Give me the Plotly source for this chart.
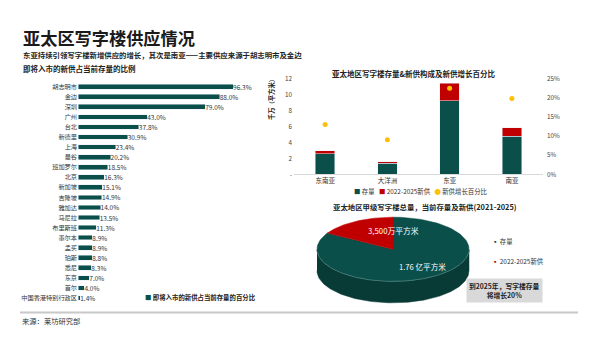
import numpy as np
import plotly.graph_objects as go

# ---------------- data ----------------
cities = ["胡志明市", "金边", "深圳", "广州", "台北", "新德里", "上海", "曼谷", "班加罗尔", "北京",
          "新加坡", "吉隆坡", "雅加达", "马尼拉", "布里斯班", "墨尔本", "孟买", "珀斯", "悉尼", "东京",
          "首尔", "中国香港特别行政区"]
new_share_pct = [96.3, 88.0, 79.0, 43.0, 37.8, 30.9, 23.4, 20.2, 18.5, 16.3,
                 15.1, 14.9, 14.0, 13.5, 11.3, 8.9, 8.9, 8.8, 8.3, 7.0, 4.0, 1.4]

regions = ["东南亚", "大洋洲", "东亚", "南亚"]
stock_10m_sqm = [2.6, 1.4, 9.2, 4.8]
new_10m_sqm = [0.35, 0.15, 2.2, 1.05]
growth_pct = [0.13, 0.09, 0.225, 0.198]

left_ticks = [0, 2, 4, 6, 8, 10, 12]
left_ticktext = ["-", "2", "4", "6", "8", "10", "12"]

pie_labels = ["存量", "2022-2025新供"]
pie_values = [17600, 3500]   # 万平方米

# ---------------- style ----------------
TEAL = "#0B4F4A"
TEAL_SIDE = "#083A36"
RED = "#C00000"
YELLOW = "#FFC000"
FONT = "Noto Sans CJK SC"
W, H = 600, 337

def px(x):
    return x / W

def py(y):
    return 1 - y / H

fig = go.Figure()

# ---------------- left bar chart ----------------
fig.add_trace(go.Bar(
    y=cities, x=new_share_pct, orientation="h", marker_color=TEAL, width=0.47,
    text=[f"{v:.1f}%" for v in new_share_pct], textposition="outside", constraintext="none",
    textfont=dict(size=6.5, color="#333", family=FONT), cliponaxis=False,
    xaxis="x", yaxis="y", showlegend=False, name="即将入市的新供占当前存量的百分比"))

# ---------------- top right stacked bars ----------------
fig.add_trace(go.Bar(x=regions, y=stock_10m_sqm, marker_color=TEAL, width=0.31,
                     xaxis="x2", yaxis="y2", name="存量", showlegend=False))
fig.add_trace(go.Bar(x=regions, y=new_10m_sqm, marker_color=RED, width=0.31,
                     xaxis="x2", yaxis="y2", name="2022-2025新供", showlegend=False))
fig.add_trace(go.Scatter(x=regions, y=growth_pct, mode="markers",
                         marker=dict(color=YELLOW, size=5), xaxis="x2", yaxis="y3",
                         name="新供增长百分比", showlegend=False))

# ---------------- 3D-ish pie (ellipse) ----------------
A_PX = 76.0
CX, CY = 393.0, 251.0
b = 33.0 / A_PX
t = 22.0 / A_PX
total = sum(pie_values)
frac_new = pie_values[1] / total
start = 90.0
red_end = start + 360.0 * frac_new

def arc(th0, th1, n=120, dy=0.0):
    th = np.radians(np.linspace(th0, th1, n))
    return np.cos(th), b * np.sin(th) + dy

# side (front half)
xs1, ys1 = arc(180, 360)
xs2, ys2 = arc(360, 180, dy=-t)
fig.add_trace(go.Scatter(x=np.concatenate([xs1, xs2]), y=np.concatenate([ys1, ys2]),
                         fill="toself", fillcolor=TEAL_SIDE, mode="lines",
                         line=dict(color=TEAL_SIDE, width=0.5),
                         xaxis="x4", yaxis="y4", showlegend=False, hoverinfo="skip"))
# stock slice
xa, ya = arc(red_end, 450)
fig.add_trace(go.Scatter(x=np.concatenate([[0], xa, [0]]), y=np.concatenate([[0], ya, [0]]),
                         fill="toself", fillcolor=TEAL, mode="lines",
                         line=dict(color=TEAL, width=0.5),
                         xaxis="x4", yaxis="y4", showlegend=False, name=pie_labels[0]))
# new supply slice
xr, yr = arc(start, red_end)
fig.add_trace(go.Scatter(x=np.concatenate([[0], xr, [0]]), y=np.concatenate([[0], yr, [0]]),
                         fill="toself", fillcolor=RED, mode="lines",
                         line=dict(color=RED, width=0.5),
                         xaxis="x4", yaxis="y4", showlegend=False, name=pie_labels[1]))
# rim highlight
xh, yh = arc(185, 355)
fig.add_trace(go.Scatter(x=xh, y=yh, mode="lines", line=dict(color="#4F807B", width=0.8),
                         xaxis="x4", yaxis="y4", showlegend=False, hoverinfo="skip"))

# pie axes geometry
xr_half = 1.05
x4_dom = [px(CX - xr_half * A_PX), px(CX + xr_half * A_PX)]
y4_dom = [0.06, 0.38]
cy_paper = py(CY)
y4_top = (y4_dom[1] - cy_paper) * H / A_PX
y4_bot = -(cy_paper - y4_dom[0]) * H / A_PX

axis_off = dict(visible=False, showgrid=False, zeroline=False)

fig.update_layout(
    width=W, height=H, margin=dict(l=0, r=0, t=0, b=0),
    paper_bgcolor="white", plot_bgcolor="white", barmode="stack",
    font=dict(family=FONT, color="#333"),
    xaxis=dict(domain=[px(78), px(78 + 161)], range=[0, 100], visible=False),
    yaxis=dict(domain=[py(306.2), py(78.8)], range=[21.5, -0.5], type="category",
               showgrid=False, zeroline=False, showline=False, ticks="",
               tickfont=dict(size=6.2, color="#333"), anchor="x"),
    xaxis2=dict(domain=[px(294), px(543)], anchor="y2", type="category", range=[-0.5, 3.5],
                showline=True, linecolor="#D9D9D9", linewidth=1, ticks="",
                tickfont=dict(size=6.5, color="#333"), showgrid=False),
    yaxis2=dict(domain=[py(174), py(75.6)], anchor="x2", range=[0, 12],
                tickvals=left_ticks, ticktext=left_ticktext, showgrid=False, zeroline=False,
                ticks="", tickfont=dict(size=6.3, color="#444"), ticklabelstandoff=1),
    yaxis3=dict(domain=[py(174), py(75.6)], anchor="x2", overlaying="y2", side="right",
                range=[0, 0.25], tickvals=[0, 0.05, 0.10, 0.15, 0.20, 0.25], tickformat=".0%",
                showgrid=False, zeroline=False, ticks="", tickfont=dict(size=6.3, color="#444"),
                ticklabelstandoff=3),
    xaxis4=dict(domain=x4_dom, range=[-xr_half, xr_half], anchor="y4", **axis_off),
    yaxis4=dict(domain=y4_dom, range=[y4_bot, y4_top], anchor="x4", **axis_off),
)

ann = []
def add(text, x, y, size, xanchor="left", yanchor="middle", color="#222", bold=False, **kw):
    if bold:
        text = f"<b>{text}</b>"
    ann.append(dict(text=text, x=x, y=y, xref="paper", yref="paper", xanchor=xanchor,
                    yanchor=yanchor, showarrow=False,
                    font=dict(size=size, color=color, family=FONT), **kw))

add("亚太区写字楼供应情况", px(21), py(33), 17.2, color="#1A1A1A", bold=True)
add("东亚持续引领写字楼新增供应的增长，其次是南亚——主要供应来源于胡志明市及金边", px(21), py(50.5), 7.4, bold=True)
add("即将入市的新供占当前存量的比例", px(21), py(65), 7.5, bold=True)
add(f'<span style="color:{TEAL}">■</span> <b>即将入市的新供占当前存量的百分比</b>',
    px(143), py(301), 6.4, color="#222")

add("亚太地区写字楼存量&新供构成及新供增长百分比", px(414), py(70), 7.5, xanchor="center", bold=True)
add("<b>千万（平方米）</b>", px(271), py(71), 6.3, xanchor="center", yanchor="top", textangle=-90)
add(f'<span style="color:{TEAL}">■</span> 存量   <span style="color:{RED}">■</span> 2022-2025新供   '
    f'<span style="color:{YELLOW}">●</span> 新供增长百分比', px(421), py(191.7), 6.4, xanchor="center", color="#333")

add("亚太地区甲级写字楼总量，当前存量及新供(2021-2025)", px(425), py(206.7), 7.4, xanchor="center", bold=True)
add(f"{pie_values[1]:,}万平方米", px(393), py(232), 7.8, xanchor="center", color="white")
add(f"{pie_values[0] / 10000:.2f} 亿平方米", px(422), py(269), 7.6, xanchor="center", color="white")
add(f'<span style="color:{TEAL}">▪</span> {pie_labels[0]}', px(490), py(243.5), 6.4, color="#333")
add(f'<span style="color:{RED}">▪</span> {pie_labels[1]}', px(490), py(264), 6.4, color="#333")
add("<b>到2025年，写字楼存量<br>将增长20%</b>", px(504), py(293.7), 6.8, xanchor="center",
    color="#222", bgcolor="#D9D9D9", borderpad=2)

add("来源：莱坊研究部", px(20), py(325), 7.3, color="#333")

fig.update_layout(annotations=ann,
                  shapes=[dict(type="line", xref="paper", yref="paper", x0=px(20), x1=px(578),
                               y0=py(316), y1=py(316), line=dict(color="#C8C8C8", width=2))])

fig.write_html("out.html")
